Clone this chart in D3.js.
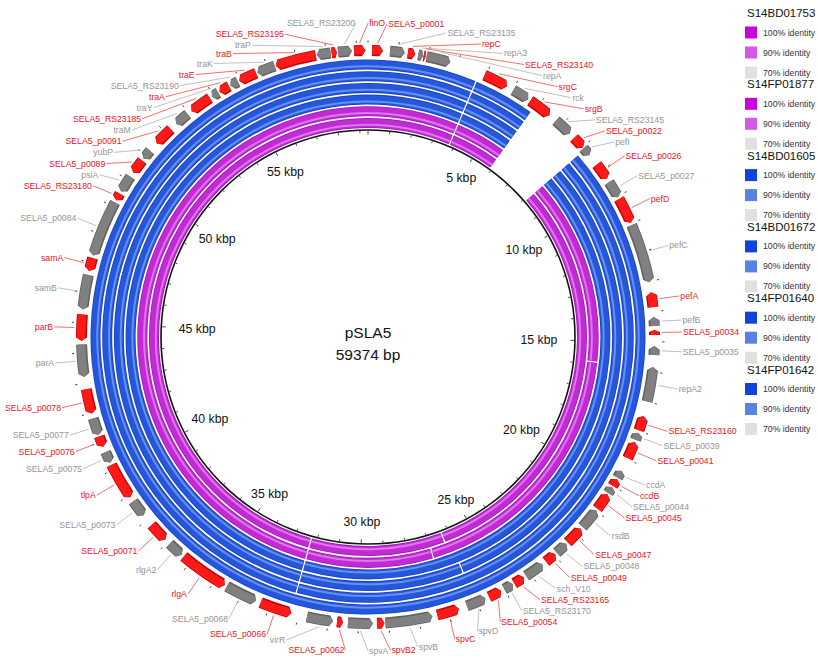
<!DOCTYPE html>
<html>
<head>
<meta charset="utf-8">
<script src="https://cdn.jsdelivr.net/npm/d3@7"></script>
<style>
  body { margin: 0; background: #fff; }
  svg { display: block; }
  text { font-family: "Liberation Sans", Arial, sans-serif; }
</style>
</head>
<body>
<svg id="chart" width="818" height="670"></svg>
<script>
// ---------------- data ----------------
const plasmidName = "pSLA5";
const plasmidLength = 59374;

// BLAST rings, innermost first
const ringNames = ["S14BD01753", "S14FP01877", "S14BD01605", "S14BD01672", "S14FP01640", "S14FP01642"];
// hit intervals (bp) per ring; ends beyond the length wrap past the origin
const ringHits = [
  [[3780, 5937], [8082, 26306], [26306, 32276], [32276, 63154]],
  [[3780, 5937], [8082, 15883], [15883, 26966], [26966, 32276], [32276, 63154]],
  [[3780, 5937], [8082, 32276], [32276, 63154]],
  [[3780, 5937], [8082, 26059], [26059, 32276], [32276, 63154]],
  [[3780, 5937], [8082, 32276], [32276, 63154]],
  [[3780, 5937], [8082, 63154]]
];
const identityLevels = ["100% identity", "90% identity", "70% identity"];

// annotated genes
const geneNames = [
  "SELA5_p0001", "SELA5_RS23135", "repC", "repA3", "SELA5_RS23140", "repA", "srgC", "rck", "srgB", "SELA5_RS23145",
  "SELA5_p0022", "pefI", "SELA5_p0026", "SELA5_p0027", "pefD", "pefC", "pefA", "pefB", "SELA5_p0034", "SELA5_p0035",
  "repA2", "SELA5_RS23160", "SELA5_p0039", "SELA5_p0041", "ccdA", "ccdB", "SELA5_p0044", "SELA5_p0045", "rsdB", "SELA5_p0047",
  "SELA5_p0048", "SELA5_p0049", "sch_V10", "SELA5_RS23165", "SELA5_RS23170", "SELA5_p0054", "spvD", "spvC", "spvB", "spvB2",
  "spvA", "SELA5_p0062", "virR", "SELA5_p0066", "SELA5_p0068", "rlgA", "rlgA2", "SELA5_p0071", "SELA5_p0073", "tlpA",
  "SELA5_p0075", "SELA5_p0076", "SELA5_p0077", "SELA5_p0078", "parA", "parB", "samB", "samA", "SELA5_p0084", "SELA5_RS23180",
  "psiA", "SELA5_p0089", "yubP", "SELA5_p0091", "traM", "SELA5_RS23185", "traY", "traA", "SELA5_RS23190", "traE",
  "traK", "traB", "traP", "SELA5_RS23195", "SELA5_RS23200", "finO"
];
const geneStarts = [
  132, 726, 1319, 1666, 1847, 1946, 3958, 5030, 5690, 6762,
  7587, 8048, 8741, 9450, 10094, 11050, 13359, 14184, 14613, 15140,
  15833, 17482, 18060, 18389, 19429, 19742, 20055, 20336, 20979, 21770,
  22463, 22958, 23502, 24244, 24673, 25119, 25696, 26636, 27543, 29143,
  29522, 30512, 30842, 32243, 33480, 34635, 36367, 37109, 38181, 38923,
  40242, 40820, 41232, 41974, 43211, 44398, 45438, 46724, 47252, 49231,
  49561, 50303, 50880, 51540, 52447, 53107, 53931, 54228, 54641, 54971,
  55631, 56274, 57675, 58170, 58385, 58912
];
const geneEnds = [
  495, 1220, 1567, 1831, 1913, 2754, 4783, 5608, 6482, 7389,
  8016, 8345, 9318, 10028, 10968, 13029, 13854, 14481, 14778, 15437,
  16988, 17977, 18307, 18967, 19692, 20006, 20286, 20913, 21688, 22397,
  22892, 23354, 24162, 24624, 25003, 25564, 26356, 27378, 29110, 29390,
  30347, 30710, 31716, 33315, 34552, 36284, 36911, 37769, 38758, 40160,
  40622, 41182, 41809, 42799, 44283, 45273, 46592, 47169, 49149, 49478,
  50138, 50798, 51210, 52200, 52942, 53849, 54179, 54591, 54921, 55581,
  56240, 57642, 58137, 58352, 58846, 59292
];
const geneStrands = [
  1, 1, 1, 1, 1, 1, 1, 1, 1, 1,
  1, 1, 1, 1, 1, 1, -1, -1, -1, -1,
  -1, -1, -1, -1, -1, -1, -1, -1, -1, -1,
  -1, -1, -1, -1, -1, -1, -1, -1, -1, -1,
  -1, -1, -1, -1, -1, -1, -1, -1, -1, -1,
  -1, -1, -1, -1, -1, -1, -1, -1, -1, -1,
  -1, -1, -1, -1, -1, -1, -1, -1, -1, -1,
  -1, -1, -1, 1, 1, 1
];
// 1 = highlighted (red), 0 = other (grey)
const geneClass = [
  1, 0, 1, 0, 1, 0, 1, 0, 1, 0,
  1, 0, 1, 0, 1, 0, 1, 0, 1, 0,
  0, 1, 0, 1, 0, 1, 0, 1, 0, 1,
  0, 1, 0, 1, 0, 1, 0, 1, 0, 1,
  0, 1, 0, 1, 0, 1, 0, 1, 0, 1,
  0, 1, 0, 1, 0, 1, 0, 1, 0, 1,
  0, 1, 0, 1, 0, 1, 0, 1, 0, 1,
  0, 1, 0, 1, 0, 1
];

const kbpTicks = [5, 10, 15, 20, 25, 30, 35, 40, 45, 50, 55];

// ---------------- layout & style ----------------
const cx = 368, cy = 337;
const rBackbone = 207;
const ringR0 = 209, ringStep = 11.7, ringW = 10;
const geneR0 = 281, geneR1 = 292;
const labelR = 314, labelH = 11;
const purpleRing = { base: "#c22ad6", edge: "#a416b8", light: "#dc78ea" };
const blueRing = { base: "#2457dc", edge: "#1a42bf", light: "#6a8fee" };
const ringHue = [purpleRing, purpleRing, blueRing, blueRing, blueRing, blueRing];
const legendSwatch = [
  ["#c800dc", "#d558e4", "#e0e0e0"],
  ["#c800dc", "#d558e4", "#e0e0e0"],
  ["#1044dc", "#5a82e4", "#e0e0e0"],
  ["#1044dc", "#5a82e4", "#e0e0e0"],
  ["#1044dc", "#5a82e4", "#e0e0e0"],
  ["#1044dc", "#5a82e4", "#e0e0e0"]
];
const geneFill = ["#808080", "#ff1a1a"];
const geneShade = ["#5f5f5f", "#c80000"];
const labelColor = ["#959595", "#e8141c"];
const leaderColor = ["#b0b0b0", "#ef4a4a"];

const svg = d3.select("#chart");
const angle = d3.scaleLinear().domain([0, plasmidLength]).range([0, 2 * Math.PI]);
const polar = (r, a) => [cx + r * Math.sin(a), cy - r * Math.cos(a)];

// ---------------- BLAST rings ----------------
// each hit is drawn as a base band with a dark rim and a pale inner stripe
const ringG = svg.append("g").attr("transform", `translate(${cx},${cy})`);
ringNames.forEach((name, i) => {
  const r0 = ringR0 + i * ringStep, r1 = r0 + ringW;
  const hue = ringHue[i];
  const pad = 0.8 / r1;
  const layers = [
    { ri: r0, ro: r1, fill: hue.edge },
    { ri: r0 + 0.8, ro: r1 - 0.8, fill: hue.base },
    { ri: r0 + 2.2, ro: r0 + 4.2, fill: hue.light }
  ];
  const g = ringG.append("g");
  layers.forEach(L => {
    const arc = d3.arc().innerRadius(L.ri).outerRadius(L.ro);
    g.append("g").selectAll("path").data(ringHits[i]).join("path")
      .attr("d", d => arc({ startAngle: angle(d[0]) + pad, endAngle: angle(d[1]) - pad }))
      .attr("fill", L.fill);
  });
});

// ---------------- backbone circle & ticks ----------------
svg.append("circle").attr("cx", cx).attr("cy", cy).attr("r", rBackbone)
  .attr("fill", "none").attr("stroke", "#111").attr("stroke-width", 1.6);

const kbSteps = d3.range(0, Math.floor(plasmidLength / 1000) + 1);
svg.append("g").selectAll("line").data(kbSteps).join("line")
  .each(function (k) {
    const a = angle(k * 1000);
    const inner = polar(rBackbone - (k % 5 === 0 ? 4.5 : 3), a);
    const outer = polar(rBackbone - 1, a);
    d3.select(this).attr("x1", inner[0]).attr("y1", inner[1]).attr("x2", outer[0]).attr("y2", outer[1]);
  })
  .attr("stroke", "#444").attr("stroke-width", 1);

// outer scale marks beyond the gene ring
svg.append("g").selectAll("line").data(kbSteps).join("line")
  .each(function (k) {
    const a = angle(k * 1000);
    const p0 = polar(geneR1 + 2.5, a), p1 = polar(geneR1 + 4.5, a);
    d3.select(this).attr("x1", p0[0]).attr("y1", p0[1]).attr("x2", p1[0]).attr("y2", p1[1]);
  })
  .attr("stroke", "#333").attr("stroke-width", 1);

// kbp labels sit closer to the backbone on the sides than at top and bottom
const kbpLabels = svg.append("g").selectAll("text").data(kbpTicks).join("text")
  .text(d => `${d} kbp`)
  .attr("font-size", 12.3).attr("fill", "#111")
  .attr("text-anchor", "middle").attr("dy", "0.35em");
kbpLabels.each(function (d) {
  const a = angle(d * 1000);
  const r = 185 - 14 * Math.pow(Math.abs(Math.sin(a)), 6);
  const [x, y] = polar(r, a);
  d3.select(this).attr("x", x).attr("y", y);
});

// ---------------- centre title ----------------
svg.append("text").attr("x", cx).attr("y", 338).attr("text-anchor", "middle")
  .attr("font-size", 15.5).attr("fill", "#111").text(plasmidName);
svg.append("text").attr("x", cx).attr("y", 360).attr("text-anchor", "middle")
  .attr("font-size", 15.5).attr("fill", "#111").text(`${plasmidLength} bp`);

// ---------------- genes ----------------
const genes = geneNames.map((name, i) => ({
  name, start: geneStarts[i], end: geneEnds[i], strand: geneStrands[i], cls: geneClass[i]
}));

function genePath(g, rIn, rOut) {
  const a0 = angle(g.start), a1 = angle(g.end);
  const rm = (geneR0 + geneR1) / 2;
  const head = Math.min(3.5, (a1 - a0) * rm * 0.4) / rm;
  const h = Math.PI / 2;
  const p = d3.path();
  if (g.strand > 0) {
    p.moveTo(...polar(rIn, a0));
    p.arc(cx, cy, rIn, a0 - h, a1 - head - h, false);
    p.lineTo(...polar(rm, a1));
    p.lineTo(...polar(rOut, a1 - head));
    p.arc(cx, cy, rOut, a1 - head - h, a0 - h, true);
  } else {
    p.moveTo(...polar(rm, a0));
    p.lineTo(...polar(rIn, a0 + head));
    p.arc(cx, cy, rIn, a0 + head - h, a1 - h, false);
    p.lineTo(...polar(rOut, a1));
    p.arc(cx, cy, rOut, a1 - h, a0 + head - h, true);
  }
  p.closePath();
  return p.toString();
}

const geneG = svg.append("g");
geneG.selectAll("path.body").data(genes).join("path").attr("class", "body")
  .attr("d", d => genePath(d, geneR0, geneR1))
  .attr("fill", d => geneShade[d.cls]);
geneG.selectAll("path.face").data(genes).join("path").attr("class", "face")
  .attr("d", d => genePath(d, geneR0 + 1.5, geneR1 - 0.8))
  .attr("fill", d => geneFill[d.cls]);

// ---------------- gene labels ----------------
const labelG = svg.append("g");
const leaderG = labelG.append("g");
const labels = genes.map(g => {
  const mid = (angle(g.start) + angle(g.end)) / 2 * 180 / Math.PI;
  return { g, t: mid, t0: mid };
});
const textSel = labelG.append("g").selectAll("text").data(labels).join("text")
  .text(d => d.g.name).attr("font-size", 8.7).attr("dy", "0.35em")
  .attr("fill", d => labelColor[d.g.cls]);
textSel.each(function (d) { d.w = this.getComputedTextLength(); });

const isRight = t => (((t % 360) + 360) % 360) < 180;
function bbox(l) {
  const [ax, ay] = polar(labelR, l.t * Math.PI / 180);
  return isRight(l.t) ? [ax, ay - labelH / 2, ax + l.w, ay + labelH / 2]
                      : [ax - l.w, ay - labelH / 2, ax, ay + labelH / 2];
}
const overlaps = (a, b) => a[0] < b[2] + 3 && b[0] < a[2] + 3 && a[1] < b[3] && b[1] < a[3];

// spread crowded labels along the label circle until neighbours no longer collide
labels.sort((a, b) => a.t - b.t);
for (let it = 0; it < 6000; it++) {
  let moved = false;
  for (let i = 0; i < labels.length; i++) {
    const A = labels[i], B = labels[(i + 1) % labels.length];
    if (overlaps(bbox(A), bbox(B))) { A.t -= 0.04; B.t += 0.04; moved = true; }
  }
  if (!moved) break;
}

textSel.each(function (d) {
  const [ax, ay] = polar(labelR, d.t * Math.PI / 180);
  const right = isRight(d.t);
  d3.select(this).attr("x", right ? ax + 1 : ax - 1).attr("y", ay)
    .attr("text-anchor", right ? "start" : "end");
});

leaderG.selectAll("line").data(labels).join("line")
  .each(function (d) {
    const p0 = polar(geneR1 + 2, d.t0 * Math.PI / 180);
    const p1 = polar(labelR, d.t * Math.PI / 180);
    d3.select(this).attr("x1", p0[0]).attr("y1", p0[1]).attr("x2", p1[0]).attr("y2", p1[1]);
  })
  .attr("stroke", d => leaderColor[d.g.cls]).attr("stroke-width", 0.8);

// ---------------- legend ----------------
const legend = svg.append("g");
ringNames.forEach((name, gi) => {
  const y0 = 13 + gi * 71.3;
  legend.append("text").attr("x", 747).attr("y", y0).attr("dy", "0.35em")
    .attr("font-size", 11.5).attr("fill", "#111").text(name);
  identityLevels.forEach((lvl, li) => {
    const yc = y0 + 19.5 + li * 20;
    legend.append("rect").attr("x", 745).attr("y", yc - 6).attr("width", 12).attr("height", 12)
      .attr("fill", legendSwatch[gi][li]);
    legend.append("text").attr("x", 763).attr("y", yc).attr("dy", "0.35em")
      .attr("font-size", 8.7).attr("fill", "#333").text(lvl);
  });
});
</script>
</body>
</html>
